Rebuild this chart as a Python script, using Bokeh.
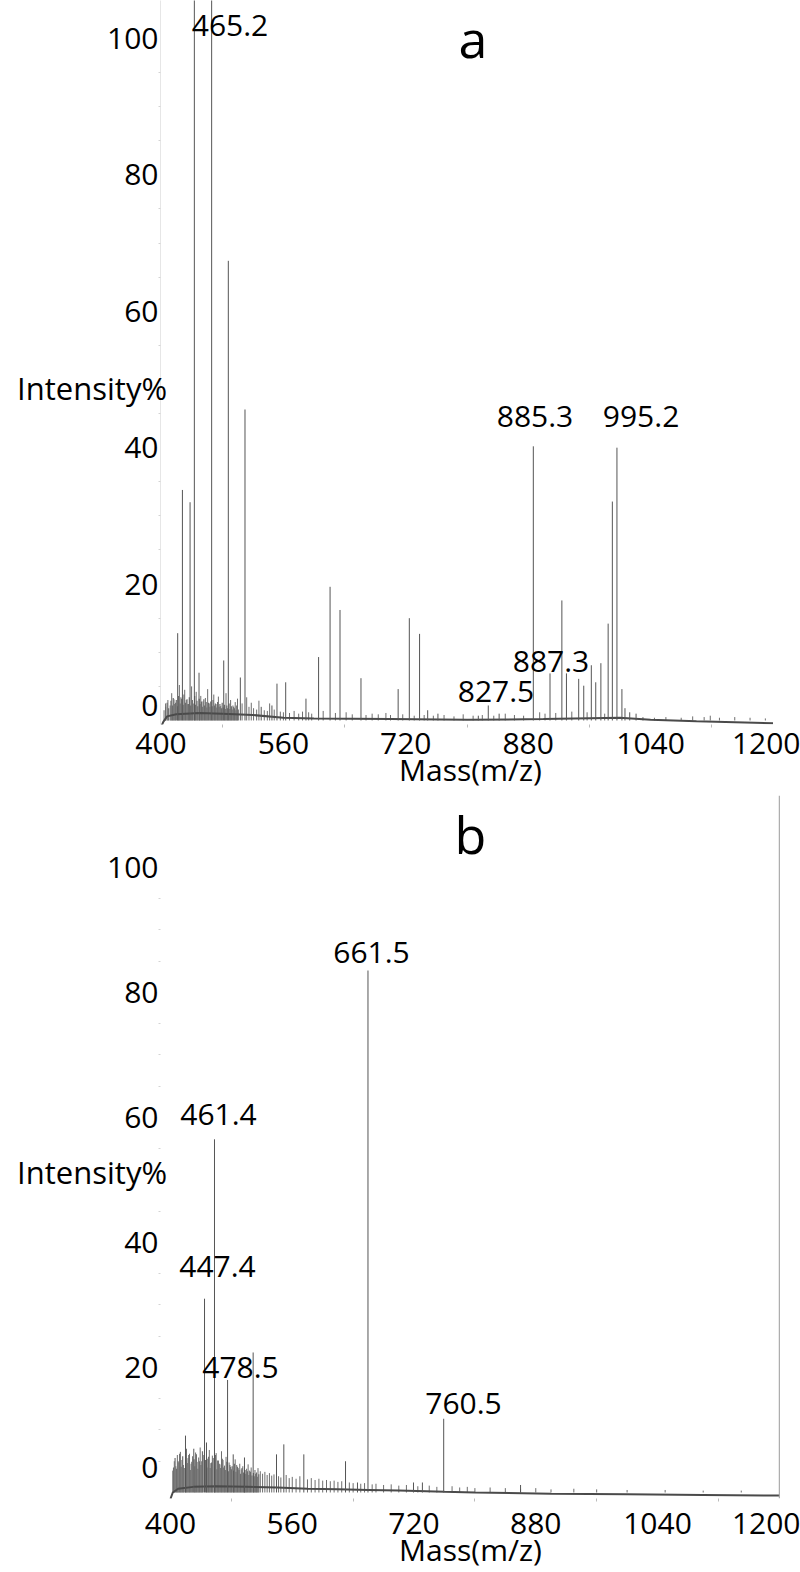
from bokeh.plotting import figure
from bokeh.layouts import column
from bokeh.models import Label, Span, FixedTicker, Range1d
from bokeh.embed import file_html
from bokeh.resources import INLINE

FONT = "Open Sans"

# ---------------- shared axes ----------------
x_ticks = [400, 560, 720, 880, 1040, 1200]
x_minor = [480, 640, 800, 960, 1120]
y_tick_labels = ["0", "20", "40", "60", "80", "100"]
y_minor = [5, 10, 15, 25, 30, 35, 45, 50, 55, 65, 70, 75, 85, 90, 95]

# ---------------- panel a ----------------
a_peak_mz = [421.8, 428.0, 438.0, 443.6, 449.7, 466.2, 482.0, 488.0, 503.7, 509.8,
             531.0, 545.0, 551.6, 563.0, 589.5, 606.0, 621.0, 634.0, 661.4, 710.0,
             724.6, 738.0, 748.6, 762.0, 814.8, 827.8, 842.0, 886.7, 908.5, 924.0,
             930.0, 946.0, 952.6, 962.5, 968.3, 975.0, 984.5, 990.0, 996.0, 1002.5,
             1006.5, 1012.7, 1021.0]
a_peak_int = [12.8, 33.8, 32.0, 106.0, 7.0, 106.0, 8.8, 67.4, 6.3, 45.6,
              2.0, 2.2, 5.4, 5.6, 3.2, 9.3, 19.6, 16.2, 6.2, 4.6,
              15.0, 12.7, 1.5, 1.0, 0.7, 2.2, 1.0, 40.2, 6.9, 17.6,
              6.9, 6.1, 5.1, 8.1, 5.6, 8.4, 14.2, 32.1, 40.0, 4.6,
              1.8, 1.2, 1.0]
a_noise_mz = [404, 406, 409, 412, 414, 417, 419, 424, 426, 431,
              433, 435, 440, 446, 452, 455, 458, 461, 463, 469,
              472, 475, 478, 485, 491, 494, 497, 500, 506, 512,
              515, 518, 521, 525, 528, 535, 539, 542, 548, 556,
              560, 568, 574, 580, 585, 593, 597, 612, 628, 642,
              650, 668, 676, 684, 694, 700, 716, 731, 744, 756,
              770, 783, 795, 808, 820, 835, 850, 862, 874, 895,
              902, 916, 937, 957, 980, 1030, 1045, 1060, 1080, 1095,
              1110, 1118, 1130, 1150, 1170, 1190]
a_noise_int = [1.5, 2.5, 3.0, 2.2, 4.0, 3.1, 2.6, 5.2, 3.4, 4.5,
               3.0, 2.4, 5.0, 4.2, 3.6, 2.8, 3.3, 4.6, 2.5, 3.8,
               2.4, 3.5, 2.1, 4.0, 3.0, 2.2, 2.7, 3.2, 2.5, 3.4,
               2.0, 2.6, 1.8, 1.6, 2.9, 1.5, 1.4, 2.5, 1.6, 1.3,
               1.2, 1.1, 1.4, 1.0, 1.3, 1.2, 1.0, 1.4, 1.1, 1.2,
               0.9, 0.8, 1.0, 0.9, 1.1, 0.8, 0.9, 0.7, 0.8, 0.7,
               0.8, 0.6, 0.9, 0.7, 0.8, 0.7, 1.0, 0.8, 0.7, 1.2,
               1.0, 1.1, 1.3, 1.2, 1.0, 0.5, 0.4, 0.5, 0.4, 0.6,
               0.5, 0.7, 0.4, 0.5, 0.4, 0.3]
a_grass_mz = [406, 408, 410, 413, 415, 416, 418, 420, 422, 423,
              425, 427, 429, 430, 432, 434, 436, 437, 439, 441,
              442, 444, 445, 447, 448, 450, 451, 453, 454, 456,
              457, 459, 460, 462, 464, 465, 467, 468, 470, 471,
              473, 474, 476, 477, 479, 480, 481, 483, 484, 486,
              487, 489, 490, 492, 493, 495, 496, 498, 499, 501]
a_grass_int = [2.0, 2.6, 1.8, 2.9, 2.2, 3.3, 2.4, 3.0, 2.1, 3.6,
               2.5, 3.2, 2.3, 3.8, 2.6, 3.1, 2.4, 3.4, 2.2, 3.0,
               2.5, 3.6, 2.3, 2.9, 2.1, 3.2, 2.4, 2.8, 2.0, 3.1,
               2.2, 2.7, 1.9, 2.6, 2.0, 2.8, 2.1, 3.0, 2.2, 2.5,
               1.9, 2.7, 2.0, 2.4, 1.8, 2.6, 1.9, 2.3, 1.7, 2.2,
               1.8, 2.5, 1.7, 2.1, 1.6, 2.0, 1.8, 1.5, 2.2, 1.6]
a_base_mz = [400, 403, 408, 420, 450, 480, 520, 560, 600, 700, 800, 900, 1000, 1040, 1100, 1200]
a_base_int = [-1.0, -0.2, 0.6, 0.9, 1.1, 1.0, 0.8, 0.4, 0.3, 0.2, 0.1, 0.2, 0.4, 0.1, -0.1, -0.4]

a_label_text = ["465.2", "885.3", "995.2", "887.3", "827.5"]
a_label_x = [490.2, 888.9, 1027.5, 909.8, 837.9]
a_label_y = [101.9, 44.6, 44.6, 8.65, 4.25]

# ---------------- panel b ----------------
b_peak_mz = [419.7, 430.6, 444.7, 447.3, 457.8, 475.0, 482.4, 497.2, 508.6, 539.3,
             548.9, 575.2, 630.0, 645.7, 659.5, 719.3, 731.0, 759.0, 860.0]
b_peak_int = [9.1, 7.0, 31.0, 8.0, 56.5, 18.0, 6.1, 5.6, 22.4, 6.1,
              7.7, 6.1, 5.0, 1.6, 83.5, 1.6, 1.6, 11.8, 1.2]
b_noise_mz = [403, 405, 407, 409, 411, 413, 415, 417, 421, 423,
              425, 427, 429, 433, 435, 437, 439, 441, 443, 449,
              451, 453, 455, 460, 463, 465, 467, 469, 471, 473,
              477, 479, 485, 487, 489, 491, 493, 495, 500, 502,
              504, 506, 511, 513, 515, 518, 521, 524, 527, 530,
              533, 536, 542, 545, 552, 556, 560, 565, 570, 580,
              585, 590, 595, 600, 605, 610, 615, 620, 625, 635,
              640, 650, 655, 665, 670, 680, 690, 700, 710, 725,
              740, 750, 770, 780, 790, 800, 820, 840, 860, 880,
              900, 930, 960, 1000, 1050, 1100, 1150]
b_noise_int = [3.5, 5.0, 4.2, 6.0, 4.8, 6.5, 5.2, 4.4, 7.0, 5.5,
               6.2, 4.6, 5.8, 6.4, 4.9, 5.6, 7.2, 5.0, 6.0, 5.4,
               6.8, 4.7, 5.9, 6.3, 5.1, 4.5, 6.6, 5.2, 4.3, 5.7,
               4.8, 4.1, 5.3, 4.4, 3.9, 4.6, 3.7, 4.2, 3.8, 4.5,
               3.5, 4.0, 3.6, 3.2, 3.9, 3.4, 3.0, 3.3, 2.8, 3.1,
               2.7, 2.9, 2.6, 2.4, 2.8, 2.3, 2.5, 2.2, 2.6, 2.1,
               2.3, 2.0, 2.2, 1.9, 2.0, 1.8, 1.9, 1.7, 1.8, 1.6,
               1.5, 1.4, 1.5, 1.3, 1.4, 1.2, 1.3, 1.1, 1.2, 1.0,
               1.1, 0.9, 1.0, 0.8, 0.9, 0.7, 0.8, 0.7, 0.6, 0.7,
               0.5, 0.6, 0.5, 0.4, 0.4, 0.3, 0.3]
b_grass_mz = [404, 406, 408, 410, 412, 414, 416, 418, 420, 422,
              424, 426, 428, 431, 432, 434, 436, 438, 440, 442,
              446, 448, 450, 452, 454, 456, 458, 459, 461, 462,
              464, 466, 468, 470, 472, 474, 476, 478, 480, 481,
              483, 484, 486, 488, 490, 492, 494, 496, 497, 498,
              499, 501, 503, 505, 507, 509, 510, 512, 514, 516]
b_grass_int = [4.0, 5.5, 3.8, 5.0, 6.2, 4.1, 5.8, 3.9, 5.1, 4.7,
               6.0, 3.6, 4.9, 5.3, 4.2, 6.1, 3.8, 5.0, 4.4, 6.6,
               5.2, 4.0, 5.7, 3.9, 4.8, 5.5, 4.2, 6.0, 3.7, 5.1,
               4.6, 3.9, 5.4, 4.0, 3.6, 4.9, 3.4, 4.4, 3.7, 4.2,
               3.5, 4.6, 3.3, 4.1, 3.6, 3.0, 3.9, 3.2, 2.9, 3.6,
               3.0, 3.4, 2.8, 3.3, 2.7, 3.1, 2.6, 3.0, 2.5, 2.9]
b_base_mz = [400, 403, 410, 430, 460, 500, 540, 580, 620, 660, 700, 760, 800, 900, 1000, 1100, 1200]
b_base_int = [-1.0, 0.0, 0.6, 0.9, 1.0, 0.9, 0.8, 0.6, 0.5, 0.4, 0.3, 0.1, 0.0, -0.2, -0.3, -0.4, -0.5]

b_label_text = ["661.5", "461.4", "447.4", "478.5", "760.5"]
b_label_x = [664.1, 463.1, 461.8, 492.0, 785.0]
b_label_y = [86.4, 60.5, 36.2, 20.0, 14.2]

LINE = "#555555"
GRASS = "#6e6e6e"
TXT = 30
FRAME_L, FRAME_R = 160, 780   # shared frame edges (column aligns frames)


def make_panel(letter, letter_x, letter_y, x_lo, x_hi, y_lo, y_hi, zero_pos,
               peak_mz, peak_int, noise_mz, noise_int, grass_mz, grass_int,
               base_mz, base_int, lab_text, lab_x, lab_y, h, border_bottom,
               yaxis_line, right_span, xlab_standoff):
    p = figure(width=800, height=h, output_backend="svg", toolbar_location=None,
               x_range=Range1d(x_lo, x_hi), y_range=Range1d(y_lo, y_hi),
               min_border_left=FRAME_L, min_border_right=800 - FRAME_R,
               min_border_top=0, min_border_bottom=border_bottom)
    p.outline_line_color = None
    p.xgrid.visible = False
    p.ygrid.visible = False
    p.background_fill_color = "white"
    p.border_fill_color = "white"

    # spectrum
    p.segment(x0=grass_mz, y0=[0] * len(grass_mz), x1=grass_mz, y1=grass_int,
              line_color=GRASS, line_width=1.2)
    p.segment(x0=noise_mz, y0=[0] * len(noise_mz), x1=noise_mz, y1=noise_int,
              line_color=GRASS, line_width=1)
    p.line(base_mz, base_int, line_color="#4a4a4a", line_width=2)
    p.segment(x0=peak_mz, y0=[0] * len(peak_mz), x1=peak_mz, y1=peak_int,
              line_color=LINE, line_width=1)

    if right_span:
        p.add_layout(Span(location=1200, dimension="height", line_color="#9a9a9a", line_width=1))

    # x axis
    xa = p.xaxis[0]
    xa.ticker = FixedTicker(ticks=x_ticks, minor_ticks=x_minor)
    xa.axis_line_color = None
    xa.major_tick_line_color = None
    xa.minor_tick_line_color = "#bbbbbb"
    xa.minor_tick_out = 3
    xa.minor_tick_in = 0
    xa.major_label_text_font = FONT
    xa.major_label_text_font_size = f"{TXT}px"
    xa.major_label_text_color = "black"
    xa.major_label_standoff = xlab_standoff
    xa.axis_label = "Mass(m/z)"
    xa.axis_label_text_font = FONT
    xa.axis_label_text_font_size = f"{TXT}px"
    xa.axis_label_text_font_style = "normal"
    xa.axis_label_text_color = "black"
    xa.axis_label_standoff = -8

    # y axis
    ya = p.yaxis[0]
    y_ticks = [zero_pos, 20, 40, 60, 80, 100]
    ya.ticker = FixedTicker(ticks=y_ticks, minor_ticks=y_minor)
    ya.major_label_overrides = {t: s for t, s in zip(y_ticks, y_tick_labels)}
    ya.axis_line_color = yaxis_line
    ya.major_tick_line_color = None
    ya.minor_tick_line_color = "#d4d4d4"
    ya.minor_tick_out = 2
    ya.minor_tick_in = 0
    ya.major_label_text_font = FONT
    ya.major_label_text_font_size = f"{TXT}px"
    ya.major_label_text_color = "black"
    ya.major_label_standoff = -4
    ya.axis_label = "\nIntensity%"
    ya.axis_label_orientation = "horizontal"
    ya.axis_label_text_font = FONT
    ya.axis_label_text_font_size = "31px"
    ya.axis_label_text_font_style = "normal"
    ya.axis_label_text_color = "black"
    ya.axis_label_standoff = -63

    # peak labels
    for t, x, y in zip(lab_text, lab_x, lab_y):
        p.add_layout(Label(x=x, y=y, text=t, text_font=FONT, text_font_size=f"{TXT}px",
                           text_align="center", text_baseline="middle", text_color="black"))
    p.add_layout(Label(x=letter_x, y=letter_y, text=letter, text_font=FONT,
                       text_font_size="52px", text_align="center", text_baseline="middle",
                       text_color="black"))
    return p


# panel a: 400 -> 160 px, 0.765 px per m/z unit
a_scale, a_origin = 0.765, 160.5
# panel b: 400 -> 170 px, 0.761 px per m/z unit
b_scale, b_origin = 0.761, 170

pa = make_panel("a", 807.8, 100.1,
                400 + (FRAME_L - a_origin) / a_scale, 400 + (FRAME_R - a_origin) / a_scale,
                -0.59, 105.57, 2.2,
                a_peak_mz, a_peak_int, a_noise_mz, a_noise_int, a_grass_mz, a_grass_int,
                a_base_mz, a_base_int, a_label_text, a_label_x, a_label_y, 795, 71,
                "#e6e6e6", False, 2)
pb = make_panel("b", 794.2, 105.4,
                400 + (FRAME_L - b_origin) / b_scale, 400 + (FRAME_R - b_origin) / b_scale,
                -0.96, 111.5, 4.0,
                b_peak_mz, b_peak_int, b_noise_mz, b_noise_int, b_grass_mz, b_grass_int,
                b_base_mz, b_base_int, b_label_text, b_label_x, b_label_y, 777, 74,
                None, True, 8)

layout = column(pa, pb, spacing=0)
open("out.html", "w").write(file_html(layout, INLINE))
